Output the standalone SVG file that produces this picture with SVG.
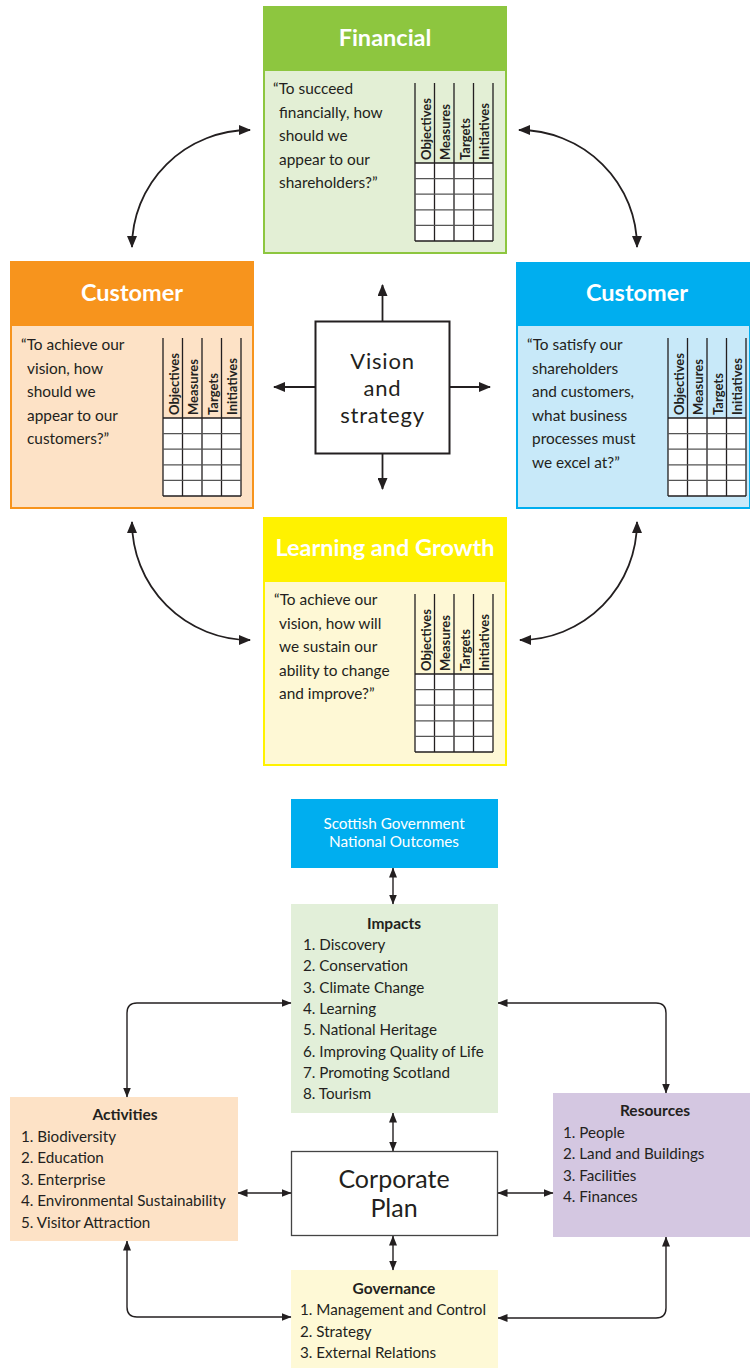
<svg xmlns="http://www.w3.org/2000/svg" width="750" height="1368" viewBox="0 0 750 1368">
<defs>
<style>
.t{font-family:Lato,"Open Sans","Liberation Sans",sans-serif;fill:#231f20}
.q{font-size:15.4px}
.ttl{font-family:Lato,"Open Sans","Liberation Sans",sans-serif;font-weight:bold;font-size:23.5px;fill:#fff;text-anchor:middle}
.hd{font-family:Lato,"Open Sans","Liberation Sans",sans-serif;font-weight:bold;font-size:13px;fill:#231f20;text-anchor:start}
.gl{stroke:#231f20;stroke-width:1.3;fill:none}
.gh{stroke:#555;stroke-width:1.2;fill:none}
.cn{stroke:#231f20;stroke-width:1.8;fill:none}
.cb{stroke:#231f20;stroke-width:1.4;fill:none}
.it{font-size:15.2px}
.bh{font-size:15.5px;font-weight:bold;text-anchor:middle}
.vs{font-size:22px;letter-spacing:0.8px;text-anchor:middle}
</style>
<marker id="ah" viewBox="0 0 12 10" refX="11" refY="5" markerWidth="13" markerHeight="10" markerUnits="userSpaceOnUse" orient="auto-start-reverse">
<path d="M0,0 L12,5 L0,10 Z" fill="#231f20"/>
</marker>
<marker id="as" viewBox="0 0 10 8" refX="9.5" refY="4" markerWidth="10" markerHeight="8" markerUnits="userSpaceOnUse" orient="auto-start-reverse">
<path d="M0,0 L10,4 L0,8 Z" fill="#231f20"/>
</marker>
</defs>
<rect width="750" height="1368" fill="#fff"/>

<!-- Financial -->
<g id="financial">
<rect x="264" y="7" width="242" height="246" fill="#e3efd5" stroke="#8dc63f" stroke-width="2"/>
<rect x="263" y="6" width="244" height="65" fill="#8dc63f"/>
<text class="ttl" x="385" y="46">Financial</text>
<text class="t q" x="273" y="94">“To succeed</text>
<text class="t q" x="279" y="117.5">financially, how</text>
<text class="t q" x="279" y="141">should we</text>
<text class="t q" x="279" y="164.5">appear to our</text>
<text class="t q" x="279" y="188">shareholders?”</text>
<rect x="415" y="163" width="78" height="78" fill="#fff"/>
<path class="gl" d="M415,83V241M434.5,83V241M454,83V241M473.5,83V241M493,83V241M415,163H493M415,241H493"/>
<path class="gh" d="M415,178.6H493M415,194.2H493M415,209.8H493M415,225.4H493"/>
<text class="hd" transform="translate(430.5,160) rotate(-90)">Objectives</text>
<text class="hd" transform="translate(450,160) rotate(-90)">Measures</text>
<text class="hd" transform="translate(469.5,160) rotate(-90)">Targets</text>
<text class="hd" transform="translate(489,160) rotate(-90)">Initiatives</text>
</g>

<!-- Left Customer -->
<g id="customer-left">
<rect x="11" y="262" width="242" height="246" fill="#fde2c6" stroke="#f7941d" stroke-width="2"/>
<rect x="10" y="261" width="244" height="65" fill="#f7941d"/>
<text class="ttl" x="132" y="301">Customer</text>
<text class="t q" x="21" y="350">“To achieve our</text>
<text class="t q" x="27" y="373.5">vision, how</text>
<text class="t q" x="27" y="397">should we</text>
<text class="t q" x="27" y="420.5">appear to our</text>
<text class="t q" x="27" y="444">customers?”</text>
<rect x="163" y="418" width="78" height="78" fill="#fff"/>
<path class="gl" d="M163,338V496M182.5,338V496M202,338V496M221.5,338V496M241,338V496M163,418H241M163,496H241"/>
<path class="gh" d="M163,433.6H241M163,449.2H241M163,464.8H241M163,480.4H241"/>
<text class="hd" transform="translate(178.5,415) rotate(-90)">Objectives</text>
<text class="hd" transform="translate(198,415) rotate(-90)">Measures</text>
<text class="hd" transform="translate(217.5,415) rotate(-90)">Targets</text>
<text class="hd" transform="translate(237,415) rotate(-90)">Initiatives</text>
</g>

<!-- Right Customer -->
<g id="customer-right">
<rect x="517" y="263" width="233" height="245" fill="#c8e9f9" stroke="#00aeef" stroke-width="2"/>
<rect x="516" y="262" width="234" height="64" fill="#00aeef"/>
<text class="ttl" x="637" y="301">Customer</text>
<text class="t q" x="527" y="350">“To satisfy our</text>
<text class="t q" x="532" y="373.5">shareholders</text>
<text class="t q" x="532" y="397">and customers,</text>
<text class="t q" x="532" y="420.5">what business</text>
<text class="t q" x="532" y="444">processes must</text>
<text class="t q" x="532" y="467.5">we excel at?”</text>
<rect x="668" y="418" width="78" height="78" fill="#fff"/>
<path class="gl" d="M668,338V496M687.5,338V496M707,338V496M726.5,338V496M746,338V496M668,418H746M668,496H746"/>
<path class="gh" d="M668,433.6H746M668,449.2H746M668,464.8H746M668,480.4H746"/>
<text class="hd" transform="translate(683.5,415) rotate(-90)">Objectives</text>
<text class="hd" transform="translate(703,415) rotate(-90)">Measures</text>
<text class="hd" transform="translate(722.5,415) rotate(-90)">Targets</text>
<text class="hd" transform="translate(742,415) rotate(-90)">Initiatives</text>
</g>

<!-- Learning and Growth -->
<g id="learning">
<rect x="264" y="518" width="242" height="247" fill="#fef8d5" stroke="#fff200" stroke-width="2"/>
<rect x="263" y="517" width="244" height="65" fill="#fff200"/>
<text class="ttl" x="385" y="556">Learning and Growth</text>
<text class="t q" x="274" y="605">“To achieve our</text>
<text class="t q" x="279" y="628.5">vision, how will</text>
<text class="t q" x="279" y="652">we sustain our</text>
<text class="t q" x="279" y="675.5">ability to change</text>
<text class="t q" x="279" y="699">and improve?”</text>
<rect x="415" y="674" width="78" height="78" fill="#fff"/>
<path class="gl" d="M415,594V752M434.5,594V752M454,594V752M473.5,594V752M493,594V752M415,674H493M415,752H493"/>
<path class="gh" d="M415,689.6H493M415,705.2H493M415,720.8H493M415,736.4H493"/>
<text class="hd" transform="translate(430.5,671) rotate(-90)">Objectives</text>
<text class="hd" transform="translate(450,671) rotate(-90)">Measures</text>
<text class="hd" transform="translate(469.5,671) rotate(-90)">Targets</text>
<text class="hd" transform="translate(489,671) rotate(-90)">Initiatives</text>
</g>

<!-- Vision -->
<g id="vision">
<rect x="315.5" y="321.5" width="134" height="132" fill="#fff" stroke="#231f20" stroke-width="2"/>
<text class="t vs" x="382.5" y="369">Vision</text>
<text class="t vs" x="382.5" y="396">and</text>
<text class="t vs" x="382.5" y="423">strategy</text>
</g>

<!-- Bottom diagram -->
<g id="scottish">
<rect x="291" y="799" width="207" height="69" fill="#00aeef"/>
<text class="t" x="394" y="829" font-size="15.3" text-anchor="middle" style="fill:#fff">Scottish Government</text>
<text class="t" x="394" y="847" font-size="15.3" text-anchor="middle" style="fill:#fff">National Outcomes</text>
</g>
<g id="impacts">
<rect x="291" y="904" width="207" height="209" fill="#e2efd9"/>
<text class="t bh" x="394" y="929">Impacts</text>
<text class="t it" x="303" y="950">1. Discovery</text>
<text class="t it" x="303" y="971.3">2. Conservation</text>
<text class="t it" x="303" y="992.6">3. Climate Change</text>
<text class="t it" x="303" y="1013.9">4. Learning</text>
<text class="t it" x="303" y="1035.2">5. National Heritage</text>
<text class="t it" x="303" y="1056.5">6. Improving Quality of Life</text>
<text class="t it" x="303" y="1077.8">7. Promoting Scotland</text>
<text class="t it" x="303" y="1099.1">8. Tourism</text>
</g>
<g id="corporate">
<rect x="291.5" y="1151.5" width="206" height="84" fill="#fff" stroke="#444" stroke-width="1.3"/>
<text class="t" x="394" y="1188" font-size="25" text-anchor="middle">Corporate</text>
<text class="t" x="394" y="1217" font-size="25" text-anchor="middle">Plan</text>
</g>
<g id="governance">
<rect x="291" y="1270" width="207" height="98" fill="#fef9d6"/>
<text class="t bh" x="394" y="1294">Governance</text>
<text class="t it" x="300" y="1315">1. Management and Control</text>
<text class="t it" x="300" y="1336.5">2. Strategy</text>
<text class="t it" x="300" y="1358">3. External Relations</text>
</g>
<g id="activities">
<rect x="10" y="1097" width="228" height="144" fill="#fde2c6"/>
<text class="t bh" x="125" y="1120">Activities</text>
<text class="t it" x="21" y="1141.5">1. Biodiversity</text>
<text class="t it" x="21" y="1163">2. Education</text>
<text class="t it" x="21" y="1184.5">3. Enterprise</text>
<text class="t it" x="21" y="1206">4. Environmental Sustainability</text>
<text class="t it" x="21" y="1227.5">5. Visitor Attraction</text>
</g>
<g id="resources">
<rect x="553" y="1093" width="197" height="144" fill="#d4c7e1"/>
<text class="t bh" x="655" y="1116">Resources</text>
<text class="t it" x="563" y="1137.5">1. People</text>
<text class="t it" x="563" y="1159">2. Land and Buildings</text>
<text class="t it" x="563" y="1180.5">3. Facilities</text>
<text class="t it" x="563" y="1202">4. Finances</text>
</g>

<g id="connectors">
<line class="cn" x1="382.5" y1="321" x2="382.5" y2="285" marker-end="url(#ah)"/>
<line class="cn" x1="382.5" y1="454" x2="382.5" y2="489" marker-end="url(#ah)"/>
<line class="cn" x1="315" y1="387" x2="274" y2="387" marker-end="url(#ah)"/>
<line class="cn" x1="450" y1="387" x2="490" y2="387" marker-end="url(#ah)"/>
<path class="cn" d="M132,247 A118,117 0 0 1 250,130" marker-start="url(#ah)" marker-end="url(#ah)"/>
<path class="cn" d="M519,130 A118,117 0 0 1 637,247" marker-start="url(#ah)" marker-end="url(#ah)"/>
<path class="cn" d="M132,522 A118,118 0 0 0 250,640" marker-start="url(#ah)" marker-end="url(#ah)"/>
<path class="cn" d="M520,640 A117,118 0 0 0 637,522" marker-start="url(#ah)" marker-end="url(#ah)"/>

<path class="cb" d="M393,868V904" marker-start="url(#as)" marker-end="url(#as)"/>
<path class="cb" d="M393,1113V1151" marker-start="url(#as)" marker-end="url(#as)"/>
<path class="cb" d="M393,1236V1270" marker-start="url(#as)" marker-end="url(#as)"/>
<path class="cb" d="M238,1193H291" marker-start="url(#as)" marker-end="url(#as)"/>
<path class="cb" d="M498,1193H553" marker-start="url(#as)" marker-end="url(#as)"/>
<path class="cb" d="M291,1003H137Q127,1003 127,1013V1097" marker-start="url(#as)" marker-end="url(#as)"/>
<path class="cb" d="M127,1241V1307Q127,1317 137,1317H291" marker-start="url(#as)" marker-end="url(#as)"/>
<path class="cb" d="M498,1003H656Q666,1003 666,1013V1093" marker-start="url(#as)" marker-end="url(#as)"/>
<path class="cb" d="M666,1237V1308Q666,1318 656,1318H498" marker-start="url(#as)" marker-end="url(#as)"/>
</g>
</svg>
